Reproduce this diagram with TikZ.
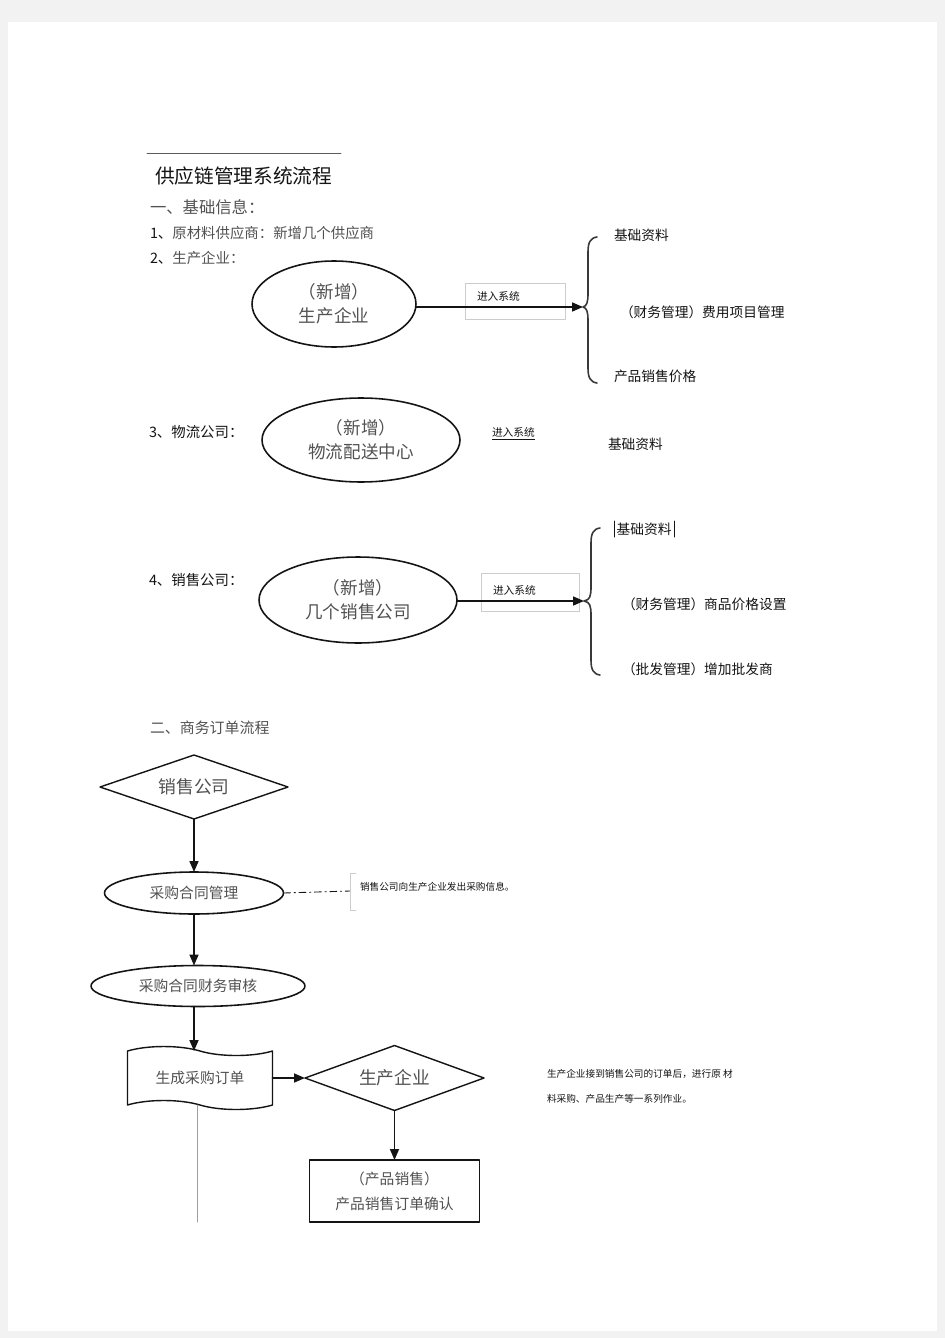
\documentclass[tikz,border=0pt]{standalone}
\usepackage{fontspec}
\setmainfont{Noto Sans CJK SC}
\usetikzlibrary{arrows.meta,shapes.geometric,shapes.symbols}
\definecolor{DocMargin}{gray}{0.95}
\definecolor{DocInk}{gray}{0.08}
\definecolor{DocSerif}{gray}{0.32}
\definecolor{DocGuide}{gray}{0.80}
\definecolor{DocRule}{gray}{0.62}
\tikzset{
    flow/diagram/.style={
        x=0.02cm, y=-0.02cm,
        draw=DocInk, text=DocInk,
        line width=0.7pt, line cap=round, line join=round,
        every node/.style={inner sep=0pt, outer sep=0pt}
    },
    flow/title/.style={anchor=west, font=\fontsize{11.2}{13}\selectfont},
    flow/heading/.style={anchor=west, font=\fontsize{9.3}{11}\selectfont, text=DocSerif},
    flow/item/.style={anchor=west, font=\fontsize{8.2}{10}\selectfont},
    flow/option/.style={anchor=west, font=\fontsize{7.8}{9}\selectfont},
    flow/entity/.style={
        ellipse, draw=DocInk, line width=0.9pt, align=center,
        font=\fontsize{10}{13.7}\selectfont, text=DocSerif
    },
    flow/gatebox/.style={draw=DocGuide, line width=0.4pt},
    flow/gatetext/.style={anchor=west, font=\fontsize{6.1}{7}\selectfont},
    flow/brace/.style={draw=DocInk!85, line width=0.9pt},
    flow/map/.style={
        draw=DocInk, line width=0.9pt,
        -{Triangle[length=2.2mm, width=1.8mm]}
    },
    flow/decision/.style={
        diamond, draw=DocInk, line width=0.8pt, aspect=2.9,
        font=\fontsize{10.1}{12}\selectfont, text=DocSerif
    },
    flow/process/.style={
        ellipse, draw=DocInk, line width=0.9pt,
        font=\fontsize{8.4}{10}\selectfont, text=DocSerif
    },
    flow/document/.style={
        tape, draw=DocInk, line width=0.8pt,
        tape bend top=out and in, tape bend bottom=out and in,
        tape bend height=0.18cm,
        font=\fontsize{8.4}{10}\selectfont, text=DocSerif
    },
    flow/record/.style={
        rectangle, draw=DocInk, line width=0.8pt, align=center,
        font=\fontsize{8.4}{14.2}\selectfont, text=DocSerif
    },
    flow/note/.style={anchor=west, align=left, font=\fontsize{5.5}{14.2}\selectfont},
    flow/leader/.style={
        draw=DocInk, line width=0.5pt,
        dash pattern=on 4pt off 2pt on 0.8pt off 2pt
    },
    flow/guide/.style={draw=DocRule, line width=0.5pt}
}
\begin{document}
\begin{tikzpicture}[flow/diagram]
    % page
    \fill[DocMargin] (0,0) rectangle (945,1338);
    \fill[white] (8,22) rectangle (937,1331);
    \useasboundingbox (0,0) rectangle (945,1338);

    % header
    \draw[flow/guide, draw=DocInk!70] (147,153) -- (341,153);
    \node[flow/title] (title) at (155,176) {供应链管理系统流程};
    \node[flow/heading] (part1) at (150,207) {一、基础信息：};
    \node[flow/item] (item1) at (150,233) {1、\textcolor{DocSerif}{原材料供应商：新增几个供应商}};
    \node[flow/item] (item2) at (150,258) {2、\textcolor{DocSerif}{生产企业：}};

    % 2. production company
    \node[flow/entity, minimum width=3.28cm, minimum height=1.72cm]
        (maker) at (334,304) {（新增）\\生产企业};
    \node[flow/gatebox, minimum width=2cm, minimum height=0.72cm]
        (gate1) at (515,301) {};
    \node[flow/gatetext] (gate1text) at ([shift={(12,-5)}]gate1.west) {进入系统};
    \coordinate (brace1tip) at (583,307);
    \draw[flow/map] (maker.east |- brace1tip) -- (brace1tip);
    \draw[flow/brace] (597,237) .. controls (590,238) and (588,243) .. (588,252)
        -- (588,293) .. controls (588,302) and (587,306) .. (brace1tip)
        .. controls (587,308) and (588,312) .. (588,321)
        -- (588,368) .. controls (588,377) and (590,382) .. (597,383);
    \node[flow/option] (maker1) at (614,235) {基础资料};
    \node[flow/option] (maker2) at (620,312) {（财务管理）费用项目管理};
    \node[flow/option] (maker3) at (614,376) {产品销售价格};

    % 3. logistics company
    \node[flow/item] (item3) at (149,432) {3、物流公司：};
    \node[flow/entity, minimum width=3.96cm, minimum height=1.68cm]
        (depot) at (361,440) {（新增）\\物流配送中心};
    \node[flow/gatetext] (gate2) at (492,434) {\underline{进入系统}};
    \node[flow/option] (depot1) at (608,444) {基础资料};

    % 4. sales companies
    \node[flow/item] (item4) at (149,580) {4、销售公司：};
    \node[flow/entity, minimum width=3.96cm, minimum height=1.72cm]
        (seller) at (358,600) {（新增）\\几个销售公司};
    \node[flow/gatebox, minimum width=1.96cm, minimum height=0.76cm]
        (gate3) at (530,592) {};
    \node[flow/gatetext] (gate3text) at ([shift={(12,-2)}]gate3.west) {进入系统};
    \coordinate (brace2tip) at (584,601);
    \draw[flow/map] (seller.east |- brace2tip) -- (brace2tip);
    \draw[flow/brace] (600,528) .. controls (593,529) and (591,534) .. (591,543)
        -- (591,587) .. controls (591,596) and (590,600) .. (brace2tip)
        .. controls (590,602) and (591,606) .. (591,615)
        -- (591,660) .. controls (591,669) and (593,674) .. (600,675);
    \node[flow/option, inner xsep=1.5pt, inner ysep=1pt] (seller1) at (614,529) {基础资料};
    \draw[line width=0.4pt] (seller1.north west) -- (seller1.south west)
        (seller1.north east) -- (seller1.south east);
    \node[flow/option] (seller2) at (622,604) {（财务管理）商品价格设置};
    \node[flow/option] (seller3) at (622,669) {（批发管理）增加批发商};

    % order flow
    \node[flow/heading, font=\fontsize{8.5}{10}\selectfont] (part2) at (150,728) {二、商务订单流程};
    \node[flow/decision, minimum width=3.76cm, minimum height=1.28cm]
        (sales) at (194,787) {销售公司};
    \node[flow/process, minimum width=3.58cm, minimum height=0.84cm]
        (contract) at (194,893) {采购合同管理};
    \node[flow/process, minimum width=4.28cm, minimum height=0.82cm]
        (audit) at (198,986) {采购合同财务审核};
    \node[flow/document, minimum width=2.9cm, minimum height=1.26cm]
        (order) at (200,1078) {生成采购订单};
    \node[flow/decision, minimum width=3.58cm, minimum height=1.30cm]
        (maker4) at (394.5,1078) {生产企业};
    \node[flow/record, minimum width=3.4cm, minimum height=1.24cm]
        (confirm) at (394.5,1191) {（产品销售）\\产品销售订单确认};

    \draw[flow/map] (sales.south) -- (contract.north);
    \draw[flow/map] (contract.south) -- (contract.south |- audit.north);
    \draw[flow/map] (contract.south |- audit.south) -- (contract.south |- order.north);
    \draw[flow/map] (order.east) -- (maker4.west);
    \draw[flow/map] (maker4.south) -- (confirm.north);
    \coordinate (orderend) at (197,1222);
    \draw[flow/guide] (orderend |- order.south) -- (orderend);

    % notes
    \coordinate (notebar) at (350,891);
    \draw[flow/leader] (contract.east) -- (notebar);
    \draw[draw=DocGuide, line width=0.5pt] (356,873) -- (350,873) -- (350,910) -- (356,910);
    \node[flow/note] (note1) at (360,887) {销售公司向生产企业发出采购信息。};
    \node[flow/note] (note2) at (547,1086) {生产企业接到销售公司的订单后，进行原 材\\料采购、产品生产等一系列作业。};
\end{tikzpicture}
\end{document}
